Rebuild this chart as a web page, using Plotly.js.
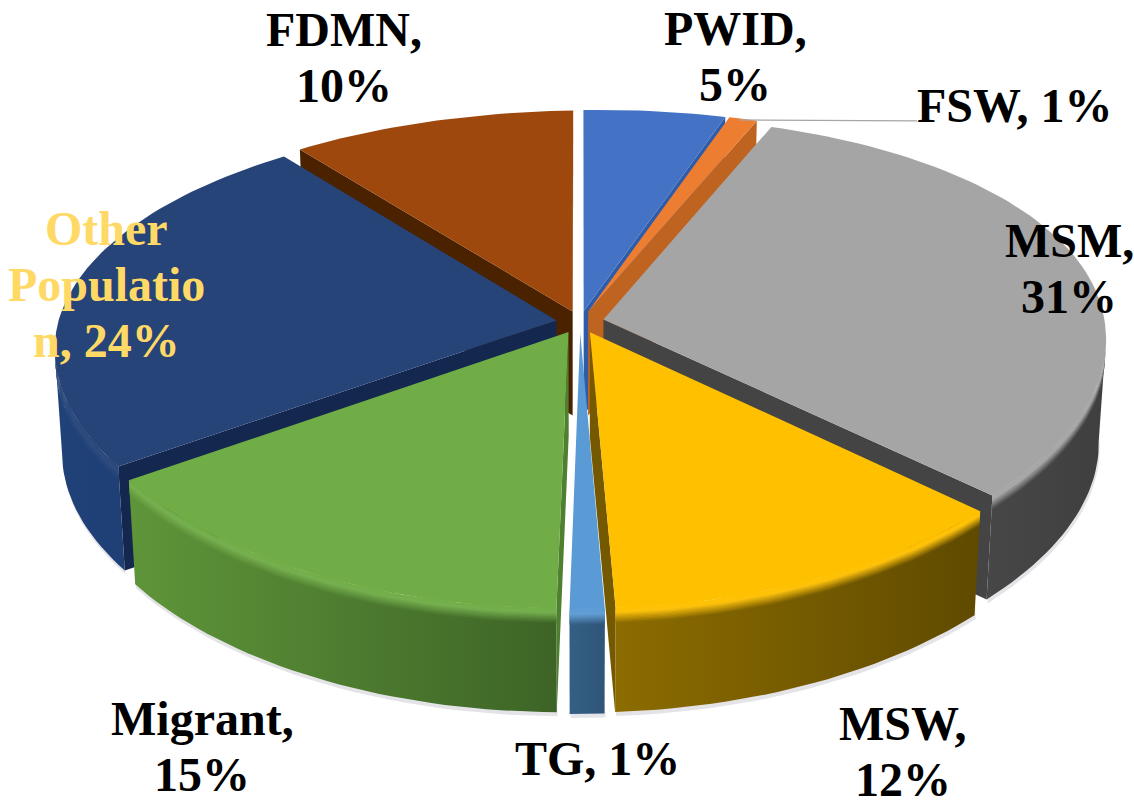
<!DOCTYPE html>
<html>
<head>
<meta charset="utf-8">
<script src="https://cdn.plot.ly/plotly-3.0.1.min.js"></script>
<style>html,body{margin:0;padding:0;background:#fff}#chart{width:1134px;height:807px}</style>
</head>
<body>
<div id="chart"></div>
<script>
// Population groups, clockwise from twelve o'clock
const categories = ['PWID', 'FSW', 'MSM', 'MSW', 'TG', 'Migrant', 'Other Population', 'FDMN'];
const shares = [5, 1, 31, 12, 1, 15, 24, 10];
const labelLines = [['PWID,'], ['FSW,'], ['MSM,'], ['MSW,'], ['TG,'], ['Migrant,'], ['Other', 'Populatio', 'n,'], ['FDMN,']];
const labelInline = [false, true, false, false, true, false, true, false];
const labelX = [735, 1015, 1069, 903, 597, 202, 106, 344];
const labelY = [56, 105, 268, 751, 758, 746, 284, 57];
const labelColors = ['#000', '#000', '#000', '#000', '#000', '#000', '#ffd966', '#000'];
const labelSize = 48, lineGap = 56;

// Surface colours per slice
const topColors = ['#4472c4', '#ed7d31', '#a5a5a5', '#ffc000', '#5b9bd5', '#70ad47', '#264478', '#9e480e'];
const wallStart = ['#2f5597', '#c0611f', '#474747', '#8c6c00', '#345f85', '#5f9539', '#1f4279', '#5c2a08'];
const wallEnd   = ['#2f5597', '#c0611f', '#3f3f3f', '#5f4a00', '#2f5578', '#3d6426', '#1f3f75', '#5c2a08'];
const cutColors = ['#2f5ca8', '#bf6420', '#444444', '#755900', '#345f85', '#4f7f30', '#13274f', '#4a2200'];

// Back-to-front drawing order (slice indices)
const drawOrder = [0, 7, 1, 2, 6, 5, 4, 3];

// Tilted-disc view settings
const cx = 580, cy = 322, Rx = 500, Ry = 233, perspY = 0.145, perspX = 0.1, roll = 0.014, shear = 0.025;
const explode = 0.048, depth = 104, taper = 0.014;
const bevelSteps = 10, bevelDepth = 0.13;

const total = shares.reduce((a, b) => a + b, 0);
const DEG = Math.PI / 180;

function project(u, v, z) {
  const x0 = cx + Rx * u / (1 + perspX * v);
  const y = cy - Ry * v / (1 + perspY * v) + roll * (cx - x0);
  const x = x0 + shear * Math.max(0, y - cy);
  return [cx + (x - cx) * (1 - taper * z), y + depth * z];
}
function hexRgb(h) {
  return [1, 3, 5].map(i => parseInt(h.substr(i, 2), 16));
}
function mix(a, b, t) {
  const A = hexRgb(a), B = hexRgb(b);
  return '#' + A.map((c, i) => Math.round(c + (B[i] - c) * t).toString(16).padStart(2, '0')).join('');
}

// Angular extent of every slice
const slices = [];
let running = 0;
shares.forEach((s, i) => {
  const a = running / total * 360;
  running += s;
  const b = running / total * 360;
  const mid = (a + b) / 2 * DEG;
  slices.push({ i, a, b, ou: explode * Math.sin(mid), ov: explode * Math.cos(mid) });
});

function rimPoint(sl, deg, z) {
  const t = deg * DEG;
  return project(sl.ou + Math.sin(t), sl.ov + Math.cos(t), z);
}
function apexPoint(sl, z) {
  return project(sl.ou, sl.ov, z);
}
function arcDegrees(a, b) {
  const out = [];
  const n = Math.max(2, Math.ceil((b - a) / 1.5));
  for (let k = 0; k <= n; k++) out.push(a + (b - a) * k / n);
  return out;
}
// Part of the rim between the silhouette tangents, which faces the viewer
function frontDegrees(sl) {
  const all = arcDegrees(sl.a, sl.b);
  const xs = all.map(d => rimPoint(sl, d, 0)[0]);
  const leftTangent = all[xs.indexOf(Math.min(...xs))];
  const rightTangent = all[xs.indexOf(Math.max(...xs))];
  return all.filter(d => d < 180 ? d >= rightTangent : d <= leftTangent);
}
function polygon(points, name, color, grad) {
  const t = {
    type: 'scatter', mode: 'lines', name,
    x: points.map(p => p[0]), y: points.map(p => p[1]),
    fill: 'toself', line: { width: 0, color }, hoverinfo: 'skip', showlegend: false,
    fillcolor: color
  };
  if (grad) t.fillgradient = { type: 'horizontal', colorscale: [[0, grad[0]], [1, grad[1]]] };
  return t;
}
function wallBand(sl, degs, z0, z1, colL, colR, name) {
  const upper = degs.map(d => rimPoint(sl, d, z0));
  const lower = degs.slice().reverse().map(d => rimPoint(sl, d, z1));
  const pts = upper.concat(lower);
  pts.push(pts[0]);
  return polygon(pts, name, colL, [colL, colR]);
}

const traces = [];

// Soft contact shadow below the front rim
drawOrder.forEach(idx => {
  const sl = slices[idx];
  const degs = frontDegrees(sl);
  if (degs.length < 2) return;
  const lower = degs.map(d => { const p = rimPoint(sl, d, 1); return [p[0] + 1, p[1] + 4]; });
  const upper = degs.slice().reverse().map(d => rimPoint(sl, d, 0.9));
  const pts = lower.concat(upper);
  pts.push(pts[0]);
  traces.push(polygon(pts, categories[idx] + ' shadow', '#e4e4e8'));
});

drawOrder.forEach(idx => {
  const sl = slices[idx];
  const name = categories[idx];

  // Cut faces that look towards the viewer
  [[sl.a, Math.sin(sl.a * DEG) < 0.02], [sl.b, Math.sin(sl.b * DEG) > -0.02]].forEach(([deg, visible]) => {
    if (!visible) return;
    const pts = [apexPoint(sl, 0), rimPoint(sl, deg, 0), rimPoint(sl, deg, 1), apexPoint(sl, 1), apexPoint(sl, 0)];
    traces.push(polygon(pts, name + ' cut', cutColors[idx]));
  });

  // Outer wall with a rounded shoulder at its top edge
  const degs = frontDegrees(sl);
  if (degs.length >= 2) {
    traces.push(wallBand(sl, degs, bevelDepth, 1, wallStart[idx], wallEnd[idx], name + ' wall'));
    const bright = mix(topColors[idx], '#ffffff', 0.05);
    for (let s = bevelSteps - 1; s >= 0; s--) {
      const t = (s + 0.5) / bevelSteps;
      const shade = w => t < 0.2 ? mix(topColors[idx], bright, t / 0.2) : mix(bright, w, (t - 0.2) / 0.8);
      const z0 = bevelDepth * s / bevelSteps - 0.004;
      const z1 = bevelDepth * (s + 1) / bevelSteps + 0.012;
      traces.push(wallBand(sl, degs, z0, z1, shade(wallStart[idx]), shade(wallEnd[idx]), name + ' shoulder'));
    }
  }

  // Top face
  const top = [apexPoint(sl, 0)].concat(arcDegrees(sl.a, sl.b).map(d => rimPoint(sl, d, 0)));
  top.push(top[0]);
  traces.push(polygon(top, name, topColors[idx]));
});

// Leader from the FSW slice to its label
const fswRim = rimPoint(slices[1], (slices[1].a + slices[1].b) / 2, 0);
traces.push({
  type: 'scatter', mode: 'lines', name: 'FSW leader',
  x: [fswRim[0] - 4, labelX[1] - 98], y: [fswRim[1] + 1, fswRim[1] + 2],
  line: { color: '#a6a6a6', width: 1.2 }, hoverinfo: 'skip', showlegend: false
});

// Each label line is placed on its own so the leading stays tight
const annotations = [];
categories.forEach((c, i) => {
  const pct = shares[i] + '%';
  const lines = labelLines[i].slice();
  if (labelInline[i]) lines[lines.length - 1] += ' ' + pct;
  else lines.push(pct);
  lines.forEach((line, k) => {
    annotations.push({
      x: labelX[i], y: labelY[i] + (k - (lines.length - 1) / 2) * lineGap, xref: 'x', yref: 'y',
      text: '<b>' + line + '</b>',
      showarrow: false, xanchor: 'center', yanchor: 'middle', align: 'center',
      font: { family: '"Liberation Serif", serif', size: labelSize, color: labelColors[i] }
    });
  });
});

Plotly.newPlot('chart', traces, {
  width: 1134, height: 807,
  margin: { l: 0, r: 0, t: 0, b: 0 },
  paper_bgcolor: '#ffffff', plot_bgcolor: '#ffffff',
  showlegend: false, hovermode: false,
  xaxis: { range: [0, 1134], visible: false, fixedrange: true },
  yaxis: { range: [807, 0], visible: false, fixedrange: true },
  annotations
}, { displayModeBar: false, staticPlot: true });
</script>
</body>
</html>
